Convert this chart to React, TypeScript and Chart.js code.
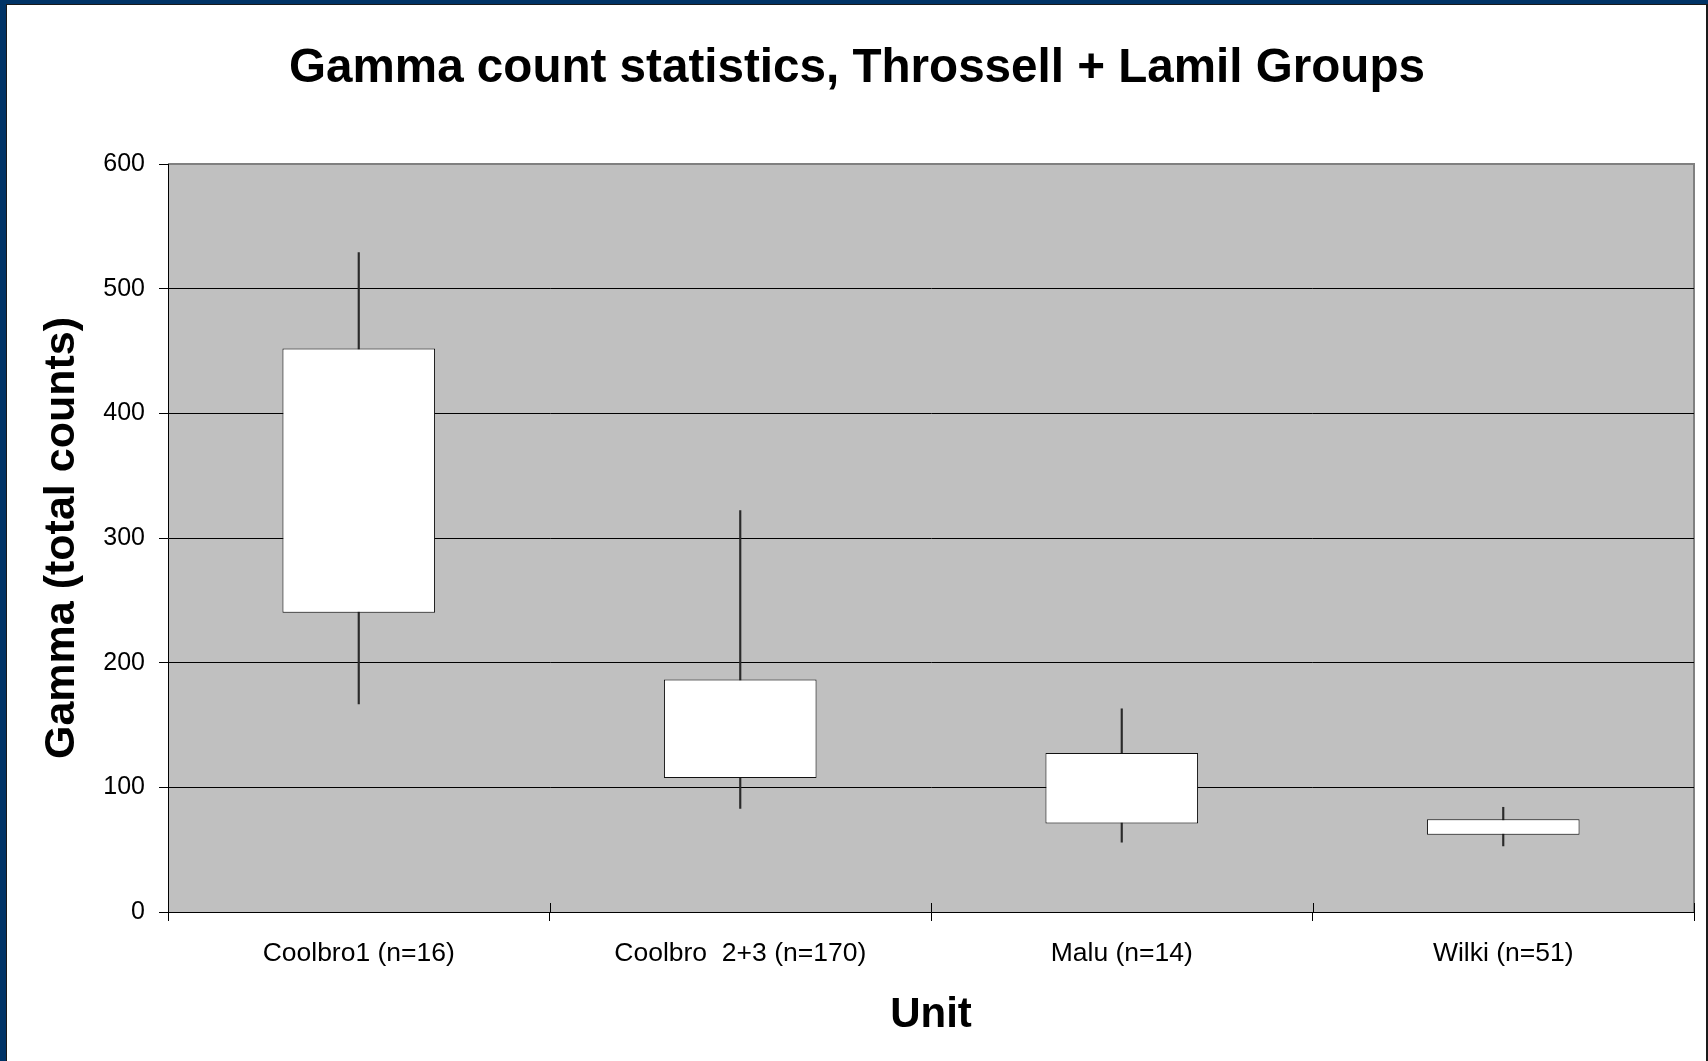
import React, { useEffect, useRef } from "react";
import { Chart, registerables } from "chart.js";

Chart.register(...registerables);

// ---- data ----
const categories = ["Coolbro1 (n=16)", "Coolbro  2+3 (n=170)", "Malu (n=14)", "Wilki (n=51)"];
const minValues = [167, 83, 56, 53];
const q1Values = [240, 107.5, 71, 62];
const q3Values = [452, 186.5, 127.5, 74.5];
const maxValues = [529, 322, 163, 84];
const yTicks = [0, 100, 200, 300, 400, 500, 600];
const chartTitle = "Gamma count statistics, Throssell + Lamil Groups";
const xTitle = "Unit";
const yTitle = "Gamma (total counts)";

const FONT = "'Liberation Sans', Arial, Helvetica, sans-serif";
const W = 1708;
const H = 1061;

const plotBackground = {
  id: "plotBackground",
  beforeDraw(chart: any) {
    const { ctx, chartArea: a } = chart;
    ctx.save();
    ctx.fillStyle = "#C0C0C0";
    ctx.fillRect(a.left, a.top, a.right - a.left, a.bottom - a.top);
    ctx.strokeStyle = "#808080";
    ctx.lineWidth = 2;
    ctx.beginPath();
    ctx.moveTo(a.left, a.top);
    ctx.lineTo(a.right, a.top);
    ctx.lineTo(a.right, a.bottom);
    ctx.stroke();
    ctx.restore();
  },
};

const innerTicks = {
  id: "innerTicks",
  afterDatasetsDraw(chart: any) {
    const x = chart.scales.x;
    const { ctx } = chart;
    ctx.save();
    ctx.strokeStyle = "#000";
    ctx.lineWidth = 1;
    for (let i = 1; i <= categories.length; i++) {
      const px = Math.round(x.getPixelForValue(i - 0.5)) + 0.5;
      ctx.beginPath();
      ctx.moveTo(px, x.top - 9);
      ctx.lineTo(px, x.top);
      ctx.stroke();
    }
    ctx.restore();
  },
};

export default function App() {
  const canvasRef = useRef<HTMLCanvasElement | null>(null);

  useEffect(() => {
    if (!canvasRef.current) return;
    const boxData = categories.map((_, i) => [q1Values[i], q3Values[i]]);
    const whiskerData = categories.map((_, i) => [minValues[i], maxValues[i]]);

    const chart = new Chart(canvasRef.current, {
      type: "bar",
      data: {
        labels: categories,
        datasets: [
          {
            label: "Interquartile range",
            data: boxData as any,
            backgroundColor: "#FFFFFF",
            borderColor: "#111111",
            borderWidth: 1,
            borderSkipped: false,
            grouped: false,
            categoryPercentage: 1,
            barPercentage: 0.4,
            order: 0,
          } as any,
          {
            label: "Range",
            data: whiskerData as any,
            backgroundColor: "#2a2a2a",
            borderWidth: 0,
            grouped: false,
            barThickness: 1.5,
            order: 1,
          } as any,
        ],
      },
      options: {
        animation: false,
        responsive: false,
        devicePixelRatio: 1,
        layout: { padding: { top: 0, right: 14, bottom: 0, left: 20 } },
        plugins: {
          legend: { display: false },
          tooltip: { enabled: false },
          title: {
            display: true,
            text: chartTitle,
            color: "#000",
            font: { family: FONT, size: 47.6, weight: "bold", lineHeight: 1.2 },
            padding: { top: 40.5, bottom: 66.4 },
          },
        },
        scales: {
          x: {
            type: "category",
            offset: true,
            grid: {
              display: true,
              offset: true,
              drawOnChartArea: false,
              drawTicks: true,
              tickLength: 9,
              color: "#000",
            },
            border: { display: true, color: "#000", width: 1 },
            ticks: {
              color: "#000",
              font: { family: FONT, size: 26.5, lineHeight: 1.2 },
              padding: 17,
              maxRotation: 0,
              autoSkip: false,
            },
            title: {
              display: true,
              text: xTitle,
              color: "#000",
              font: { family: FONT, size: 42, weight: "bold", lineHeight: 1.2 },
              padding: { top: 0, bottom: 20.4 },
            },
            afterFit: (s: any) => {
              s.height = 149;
            },
          },
          y: {
            min: 0,
            max: 600,
            grid: {
              color: (c: any) => (c.tick && c.tick.value === 600 ? "#808080" : "#000"),
              tickColor: "#000",
              tickLength: 9,
              lineWidth: 1,
            },
            border: { display: true, color: "#000", width: 1 },
            ticks: {
              color: "#000",
              font: { family: FONT, size: 25, lineHeight: 1.2 },
              padding: 14,
              stepSize: 100,
            },
            afterBuildTicks: (s: any) => {
              s.ticks = yTicks.map((v) => ({ value: v }));
            },
            title: {
              display: true,
              text: yTitle,
              color: "#000",
              font: { family: FONT, size: 43, weight: "bold", lineHeight: 1.2 },
              padding: { top: 16.8, bottom: 0 },
            },
            afterFit: (s: any) => {
              s.width = 148;
            },
          },
        },
      } as any,
      plugins: [plotBackground, innerTicks],
    });
    return () => chart.destroy();
  }, []);

  return (
    <div
      style={{
        position: "absolute",
        left: 0,
        top: 0,
        width: W,
        height: H,
        background: "#003366",
        overflow: "hidden",
      }}
    >
      <div
        style={{
          position: "absolute",
          left: 6,
          top: 4,
          width: W - 6,
          height: H,
          boxSizing: "border-box",
          background: "#FFFFFF",
          borderTop: "1px solid #1a1a1a",
          borderLeft: "1px solid #1a1a1a",
          borderRight: "2px solid #1a1a1a",
        }}
      />
      <canvas
        ref={canvasRef}
        width={W}
        height={H}
        style={{ position: "absolute", left: 0, top: 0, width: W, height: H }}
      />
    </div>
  );
}
